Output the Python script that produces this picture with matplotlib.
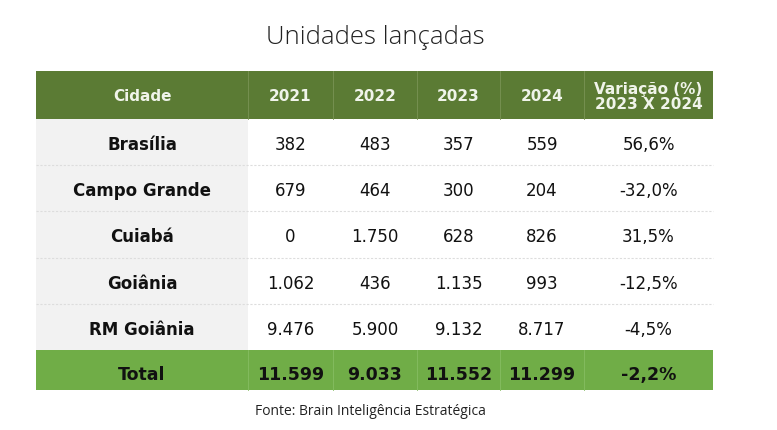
import matplotlib.pyplot as plt
from matplotlib.patches import Rectangle

# table content
headers = ['Cidade', '2021', '2022', '2023', '2024', 'Variação (%)\n2023 X 2024']
cities = ['Brasília', 'Campo Grande', 'Cuiabá', 'Goiânia', 'RM Goiânia']
v2021 = ['382', '679', '0', '1.062', '9.476']
v2022 = ['483', '464', '1.750', '436', '5.900']
v2023 = ['357', '300', '628', '1.135', '9.132']
v2024 = ['559', '204', '826', '993', '8.717']
variacao = ['56,6%', '-32,0%', '31,5%', '-12,5%', '-4,5%']
total = ['Total', '11.599', '9.033', '11.552', '11.299', '-2,2%']

# layout (pixels)
col_edges = [36, 248, 333, 417, 500, 584, 713]
header_top, header_bot = 72, 120
row_h = 46.2
total_h = 40

header_col = '#5b7b34'
total_col = '#70ad47'
city_bg = '#f2f2f2'
cell_font = 'DejaVu Sans'

fig = plt.figure(figsize=(7.77, 4.31), dpi=100)
ax = fig.add_axes([0, 0, 1, 1])
ax.set_xlim(0, 777)
ax.set_ylim(431, 0)
ax.axis('off')

ax.text(375, 38, 'Unidades lançadas', ha='center', va='center',
        fontsize=18.5, family='Open Sans', fontweight='light', color='#222222')

x0, x1 = col_edges[0], col_edges[-1]
centers = [(col_edges[i] + col_edges[i + 1]) / 2 for i in range(len(col_edges) - 1)]

# header
ax.add_patch(Rectangle((x0, header_top), x1 - x0, header_bot - header_top,
                       color=header_col, lw=0))
for i, h in enumerate(headers):
    ax.text(centers[i], (header_top + header_bot) / 2 + 1, h, ha='center', va='center',
            fontsize=11, fontweight='bold', color='#f0f4ea', family=cell_font,
            linespacing=0.95)
for xe in col_edges[1:-1]:
    ax.plot([xe, xe], [header_top, header_bot], color='#7a9455', lw=0.6)

# body
rows = list(zip(cities, v2021, v2022, v2023, v2024, variacao))
y = header_bot
for r, row in enumerate(rows):
    ax.add_patch(Rectangle((x0, y), col_edges[1] - x0, row_h, color=city_bg, lw=0))
    yc = y + row_h / 2 + 2
    for i, val in enumerate(row):
        ax.text(centers[i], yc, val, ha='center', va='center', fontsize=12,
                fontweight='bold' if i == 0 else 'normal', color='#111111',
                family=cell_font)
    if r < len(rows) - 1:
        ax.plot([x0, x1], [y + row_h, y + row_h], color='#dddddd', lw=0.8,
                ls=(0, (2, 1.5)))
    y += row_h

# total row
ax.add_patch(Rectangle((x0, y), x1 - x0, total_h, color=total_col, lw=0))
for i, val in enumerate(total):
    ax.text(centers[i], y + total_h / 2 + 4, val, ha='center', va='center',
            fontsize=12.5, fontweight='bold', color='#111111', family=cell_font)
for xe in col_edges[1:-1]:
    ax.plot([xe, xe], [y, y + total_h], color='#86bd62', lw=0.6)

ax.text(370, 412, 'Fonte: Brain Inteligência Estratégica', ha='center', va='center',
        fontsize=10, family='Open Sans', color='#222222')

fig.savefig('out.png', dpi=100)
